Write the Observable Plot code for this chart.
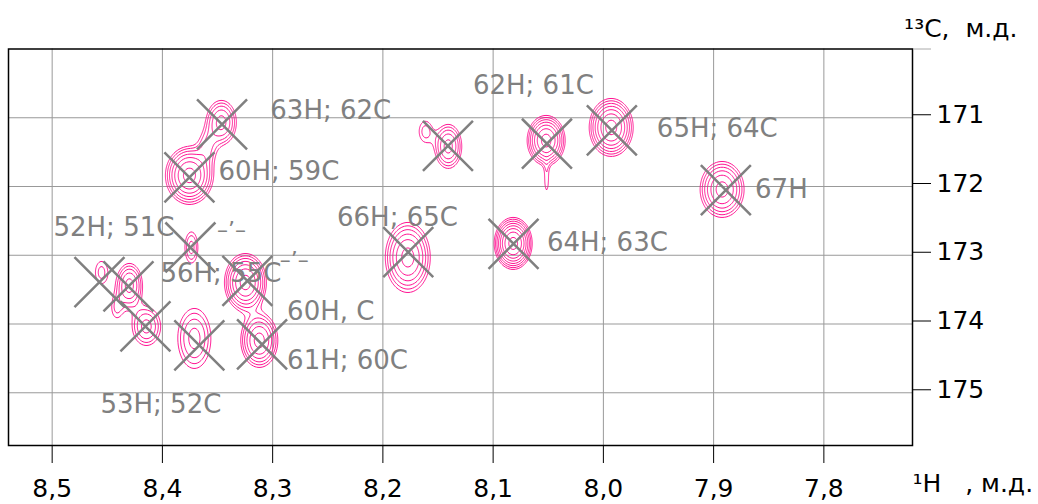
<!DOCTYPE html>
<html><head><meta charset="utf-8">
<script src="https://cdn.jsdelivr.net/npm/d3@7"></script>
<script src="https://cdn.jsdelivr.net/npm/@observablehq/plot@0.6"></script>
<style>body{margin:0;background:#fff;} svg{display:block}</style>
</head><body><div id="chart"></div>
<script>
// Cross-peak model (1H ppm, 13C ppm, relative intensity, line widths in ppm)
const peakH      = [8.3465, 8.3592, 8.3755, 8.1616, 8.1407, 8.0519, 8.0515, 7.9929, 7.8923, 8.0818, 8.1774, 8.3247, 8.3737, 8.4553, 8.4299, 8.4417, 8.4145, 8.3710, 8.3121];
const peakC      = [171.068, 171.417, 171.839, 171.199, 171.417, 171.330, 171.912, 171.141, 172.043, 172.828, 173.032, 173.396, 172.887, 173.250, 173.439, 173.774, 174.036, 174.210, 174.239];
const peakAmp    = [3.74, 1.6, 6.82, 1.52, 3.74, 6.82, 1.25, 6.82, 5.05, 9.2, 5.05, 6.82, 2.05, 1.52, 3.74, 1.3, 2.77, 2.77, 5.05];
const peakWidthH = [0.00837, 0.0062, 0.0111, 0.00593, 0.00753, 0.0088, 0.00227, 0.01018, 0.01108, 0.00818, 0.01133, 0.0097, 0.0049, 0.00593, 0.00725, 0.005, 0.00889, 0.01047, 0.00933];
const peakWidthC = [0.197, 0.173, 0.215, 0.159, 0.197, 0.1855, 0.204, 0.215, 0.226, 0.1795, 0.283, 0.215, 0.188, 0.1745, 0.197, 0.16, 0.1935, 0.3055, 0.218];
const contourLevels = [1, 1.35, 1.82, 2.46, 3.32, 4.48, 6.05, 8.17, 11.0];

// Assignment markers (X)
const markerH = [8.3459, 8.3755, 8.1410, 8.0512, 7.9923, 7.8889, 8.0815, 8.1770, 8.3229, 8.3746, 8.4571, 8.4308, 8.4154, 8.3665, 8.3096];
const markerC = [171.097, 171.868, 171.410, 171.378, 171.185, 172.053, 172.833, 172.955, 173.374, 172.887, 173.391, 173.454, 174.036, 174.312, 174.297];

// Labels
const labelText = ["63H; 62C", "60H; 59C", "62H; 61C", "65H; 64C", "67H", "64H; 63C", "66H; 65C", "52H; 51C", "56H; 55C", "60H, C", "61H; 60C", "53H; 52C", "–’–", "–’–"];
const labelH = [8.3021, 8.3492, 8.1183, 7.9515, 7.8624, 8.0512, 8.2416, 8.4988, 8.4018, 8.2869, 8.2869, 8.4562, 8.3504, 8.2935];
const labelC = [171.015, 171.912, 170.651, 171.282, 172.174, 172.940, 172.577, 172.727, 173.391, 173.948, 174.661, 175.301, 172.741, 173.177];

const xTicks = [8.5, 8.4, 8.3, 8.2, 8.1, 8.0, 7.9, 7.8];
const yTicks = [171, 172, 173, 174, 175];
const xDomain = [8.5396, 7.7196];
const yDomain = [170, 175.767];

const markers = markerH.map((h, i) => ({h, c: markerC[i]}));
const labels = labelText.map((t, i) => ({t, h: labelH[i], c: labelC[i], small: t.startsWith("–")}));

function intensity(h, c) {
  let s = 0;
  for (let i = 0; i < peakH.length; i++) {
    const dx = (h - peakH[i]) / peakWidthH[i];
    const dy = (c - peakC[i]) / peakWidthC[i];
    const e = 0.5 * (dx * dx + dy * dy);
    if (e < 30) s += peakAmp[i] * Math.exp(-e);
  }
  return s;
}

const fmt = d => d3.format(".1f")(d).replace(".", ",");
const gray = "#808080";

const chart = Plot.plot({
  width: 1038,
  height: 504,
  marginLeft: 8,
  marginRight: 126,
  marginTop: 48.5,
  marginBottom: 59,
  style: {fontFamily: "DejaVu Sans", background: "#fff", color: "black"},
  x: {domain: xDomain},
  y: {domain: yDomain, reverse: true},
  marks: [
    Plot.gridX(xTicks, {stroke: "#999", strokeOpacity: 1, strokeWidth: 1}),
    Plot.gridY(yTicks, {stroke: "#999", strokeOpacity: 1, strokeWidth: 1}),
    Plot.contour({
      x1: xDomain[0], x2: xDomain[1], y1: yDomain[0], y2: yDomain[1],
      value: intensity,
      thresholds: contourLevels,
      fill: "none",
      stroke: "#ff1493",
      strokeWidth: 1,
      pixelSize: 1
    }),
    Plot.dot(markers, {x: "h", y: "c", symbol: "times", r: 22.8, stroke: gray, strokeWidth: 2.5}),
    Plot.text(labels.filter(d => !d.small), {x: "h", y: "c", text: "t", textAnchor: "start", lineAnchor: "bottom", fontSize: 26, fill: gray}),
    Plot.text(labels.filter(d => d.small), {x: "h", y: "c", text: "t", textAnchor: "start", lineAnchor: "bottom", fontSize: 22, fill: gray}),
    Plot.frame({stroke: "black", strokeWidth: 1.5}),
    Plot.axisX(xTicks, {tickSize: 18, tickPadding: 16, fontSize: 25, tickFormat: fmt, label: null}),
    Plot.axisY(yTicks, {anchor: "right", tickSize: 18, tickPadding: 6, fontSize: 25, dy: -3, tickFormat: d3.format("d"), label: null}),
    Plot.axisY([170], {anchor: "right", tickSize: 18, stroke: "#aaa", tickFormat: () => "", label: null}),
    Plot.text(["¹³C,  м.д."], {frameAnchor: "top-right", textAnchor: "end", lineAnchor: "bottom", dx: 105, dy: -12, fontSize: 25, fill: "black"}),
    Plot.text(["¹H   , м.д."], {frameAnchor: "bottom-right", textAnchor: "start", lineAnchor: "bottom", dx: 0, dy: 46.5, fontSize: 25, fill: "black"})
  ]
});
document.getElementById("chart").appendChild(chart);
</script>
</body></html>
